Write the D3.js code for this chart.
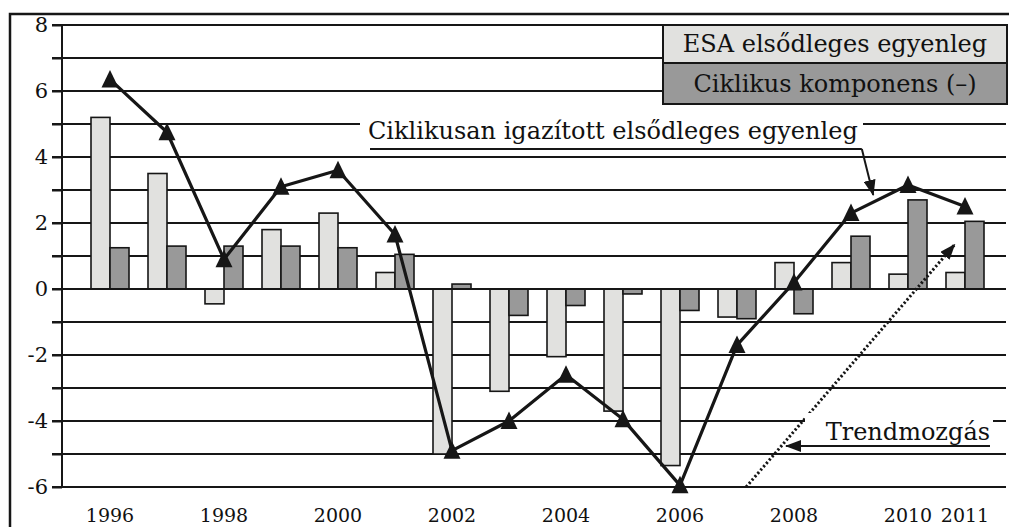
<!DOCTYPE html>
<html lang="hu">
<head>
<meta charset="UTF-8">
<title>Elsődleges egyenleg</title>
<script src="https://d3js.org/d3.v7.min.js"></script>
<style>
  body { margin: 0; background: #fff; }
  svg text { font-family: "DejaVu Serif", serif; fill: #111; }
</style>
</head>
<body>
<script>
// data
var years = ["1996","1997","1998","1999","2000","2001","2002","2003","2004","2005","2006","2007","2008","2009","2010","2011"];
var esa = [5.2, 3.5, -0.45, 1.8, 2.3, 0.5, -5.0, -3.1, -2.05, -3.7, -5.35, -0.85, 0.8, 0.8, 0.45, 0.5];
var ciklikus = [1.25, 1.3, 1.3, 1.3, 1.25, 1.05, 0.15, -0.8, -0.5, -0.15, -0.65, -0.9, -0.75, 1.6, 2.7, 2.05];
var igazitott = [6.35, 4.75, 0.9, 3.1, 3.6, 1.65, -4.9, -4.0, -2.6, -3.95, -5.95, -1.7, 0.2, 2.3, 3.15, 2.5];
var xLabels = ["1996","1998","2000","2002","2004","2006","2008","2010","2011"];
var yTicks = [-6, -4, -2, 0, 2, 4, 6, 8];
var seriesNames = ["ESA elsődleges egyenleg", "Ciklikus komponens (–)"];
var lineName = "Ciklikusan igazított elsődleges egyenleg";
var trendName = "Trendmozgás";

var W = 1009, H = 527;
var svg = d3.select("body").append("svg").attr("width", W).attr("height", H);

var y = d3.scaleLinear().domain([-6, 8]).range([487, 25]);
var x = d3.scaleBand().domain(years).range([81.5, 993.5]).paddingInner(1/3).paddingOuter(1/6);
var xs = d3.scaleBand().domain([0, 1]).range([0, x.bandwidth()]);
var step = x.step();
var cx = function(i) { return x(years[0]) + x.bandwidth() / 2 + i * step; };

var ink = "#161616";

// outer frame (only top and left visible)
svg.append("rect").attr("x", 10).attr("y", 14).attr("width", 1100).attr("height", 700)
  .attr("fill", "none").attr("stroke", ink).attr("stroke-width", 2.5);

// grid lines every unit
svg.append("g").selectAll("line").data(d3.range(-6, 9)).enter().append("line")
  .attr("x1", 52).attr("x2", 1006)
  .attr("y1", function(d) { return y(d); }).attr("y2", function(d) { return y(d); })
  .attr("stroke", ink).attr("stroke-width", 2);

// y axis
var yAxis = d3.axisLeft(y).tickValues(d3.range(-6, 9)).tickSize(10)
  .tickFormat(function(d) { return yTicks.indexOf(d) >= 0 ? String(d) : ""; });
var ga = svg.append("g").attr("transform", "translate(62,0)").call(yAxis).attr("font-family", null);
ga.select(".domain").attr("stroke", ink).attr("stroke-width", 2).attr("d", "M0," + y(8) + "V" + y(-6));
ga.selectAll(".tick line").attr("stroke", ink).attr("stroke-width", 2);
ga.selectAll(".tick text").attr("x", -14).attr("font-size", 21).attr("fill", ink);

// bars
var fills = ["#e1e1df", "#999999"];
[esa, ciklikus].forEach(function(vals, s) {
  svg.append("g").selectAll("rect").data(vals).enter().append("rect")
    .attr("x", function(d, i) { return x(years[i]) + xs(s); })
    .attr("width", xs.bandwidth())
    .attr("y", function(d) { return y(Math.max(0, d)); })
    .attr("height", function(d) { return Math.abs(y(d) - y(0)); })
    .attr("fill", fills[s]).attr("stroke", ink).attr("stroke-width", 1.6);
});

// zero line on top of bars
svg.append("line").attr("x1", 62).attr("x2", 1006).attr("y1", y(0)).attr("y2", y(0))
  .attr("stroke", ink).attr("stroke-width", 2);

// x labels
svg.append("g").selectAll("text").data(xLabels).enter().append("text")
  .attr("x", function(d) { return x(d) + x.bandwidth() / 2; })
  .attr("y", 522).attr("text-anchor", "middle").attr("font-size", 19).text(function(d) { return d; });

// line with triangle markers
var line = d3.line().x(function(d, i) { return cx(i); }).y(function(d) { return y(d); });
svg.append("path").datum(igazitott).attr("d", line)
  .attr("fill", "none").attr("stroke", ink).attr("stroke-width", 3.2).attr("stroke-linejoin", "round");
svg.append("g").selectAll("path").data(igazitott).enter().append("path")
  .attr("d", "M0,-9.5L8.5,8L-8.5,8Z")
  .attr("transform", function(d, i) { return "translate(" + cx(i) + "," + y(d) + ")"; })
  .attr("fill", ink);

// arrow heads
var defs = svg.append("defs");
defs.append("marker").attr("id", "arr").attr("viewBox", "0 0 16 12").attr("refX", 15).attr("refY", 6)
  .attr("markerWidth", 16).attr("markerHeight", 12).attr("markerUnits", "userSpaceOnUse").attr("orient", "auto")
  .append("path").attr("d", "M0,0L16,6L0,12Z").attr("fill", ink);

// trend (dotted arrow)
svg.append("line")
  .attr("x1", cx(11.16)).attr("y1", y(-6)).attr("x2", cx(14.82)).attr("y2", y(1.35))
  .attr("stroke", ink).attr("stroke-width", 3).attr("stroke-dasharray", "2.2,2.2")
  .attr("marker-end", "url(#arr)");

// label: Ciklikusan igazított ...
svg.append("rect").attr("x", 360).attr("y", 108).attr("width", 503).attr("height", 43).attr("fill", "#fff");
svg.append("text").attr("x", 368).attr("y", 139).attr("font-size", 24).text(lineName);
svg.append("line").attr("x1", 370).attr("x2", cx(13.19)).attr("y1", 149).attr("y2", 149)
  .attr("stroke", ink).attr("stroke-width", 2);
svg.append("line").attr("x1", cx(13.19)).attr("y1", 149).attr("x2", cx(13.39)).attr("y2", y(2.85))
  .attr("stroke", ink).attr("stroke-width", 2).attr("marker-end", "url(#arr)");

// label: Trendmozgás
svg.append("rect").attr("x", 805).attr("y", 413).attr("width", 188).attr("height", 34).attr("fill", "#fff");
svg.append("text").attr("x", 990).attr("y", 440).attr("text-anchor", "end").attr("font-size", 24).text(trendName);
svg.append("line").attr("x1", 990).attr("x2", 786).attr("y1", 446).attr("y2", 446)
  .attr("stroke", ink).attr("stroke-width", 2).attr("marker-end", "url(#arr)");

// legend
var lg = svg.append("g");
seriesNames.forEach(function(n, s) {
  var top = [25, 63][s], h = [38, 41][s];
  lg.append("rect").attr("x", 663).attr("y", top).attr("width", 344).attr("height", h)
    .attr("fill", fills[s]).attr("stroke", ink).attr("stroke-width", 2);
  lg.append("text").attr("x", 835).attr("y", top + h / 2 + 8).attr("text-anchor", "middle")
    .attr("font-size", 24).text(n);
});
</script>
</body>
</html>
